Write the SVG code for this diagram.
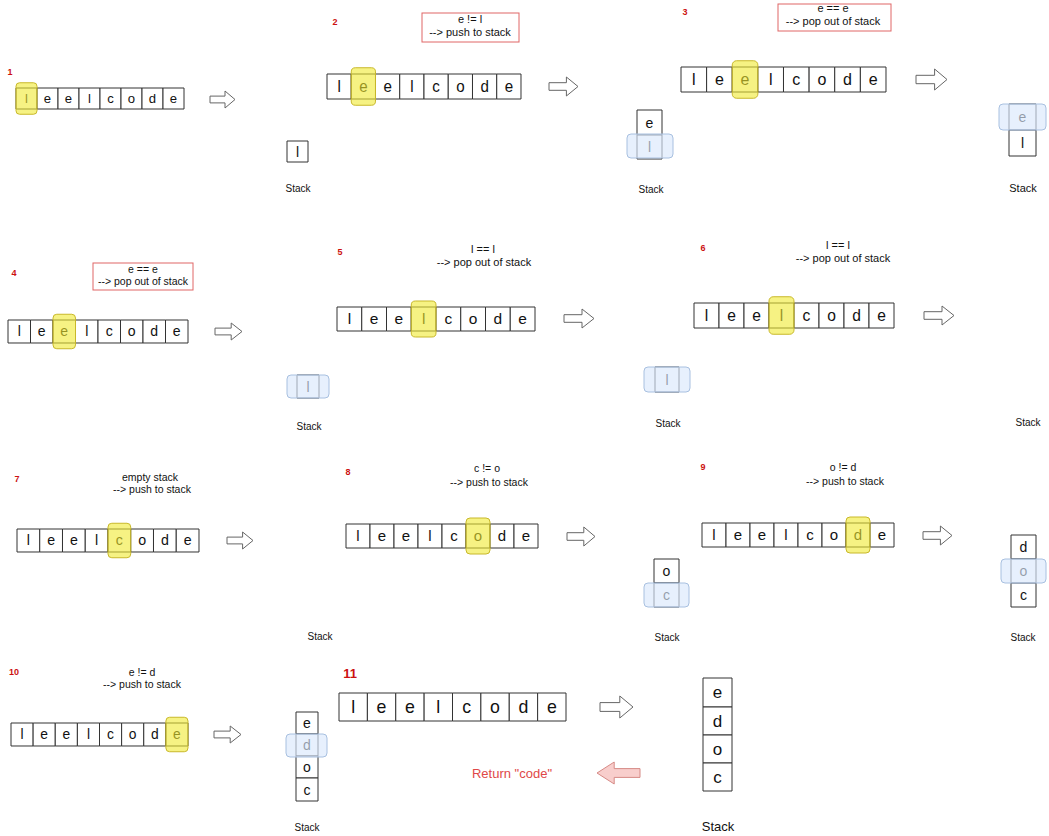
<svg xmlns="http://www.w3.org/2000/svg" width="1049" height="836" viewBox="0 0 1049 836">
<style>
.bg{fill:#fff}
.c{fill:#fff;stroke:#333;stroke-width:1;vector-effect:non-scaling-stroke}
.t{font-family:"Liberation Sans","DejaVu Sans",sans-serif;font-size:15px;text-anchor:middle;fill:#111}
.st{font-family:"Liberation Sans","DejaVu Sans",sans-serif;font-size:14px;text-anchor:middle;fill:#111}
.hy{fill:#f0ea30;fill-opacity:0.6;stroke:#c8b82a;stroke-width:1;vector-effect:non-scaling-stroke}
.hb{fill:#dae8fc;fill-opacity:0.65;stroke:#a8c0e0;stroke-width:1}
.num{font-family:"Liberation Sans","DejaVu Sans",sans-serif;font-size:9px;font-weight:bold;fill:#cc1111;text-anchor:middle}
.lbl{font-family:"Liberation Sans","DejaVu Sans",sans-serif;font-size:11px;fill:#111;text-anchor:middle}
.sl{font-family:"Liberation Sans","DejaVu Sans",sans-serif;font-size:10px;fill:#111;text-anchor:middle}
.rb{fill:none;stroke:#e06666;stroke-width:1}
.ar{fill:#fff;stroke:#666;stroke-width:1}
.pk{fill:#f8cecc;stroke:#d68a86;stroke-width:1}
</style>
<rect class="bg" x="0" y="0" width="1049" height="836"/>

<g id="step1">
<text class="num" x="10" y="75">1</text>
<g transform="translate(16,88) scale(0.875,0.875)">
<rect class="c" x="0" y="0" width="24" height="24"/><rect class="c" x="24" y="0" width="24" height="24"/><rect class="c" x="48" y="0" width="24" height="24"/><rect class="c" x="72" y="0" width="24" height="24"/><rect class="c" x="96" y="0" width="24" height="24"/><rect class="c" x="120" y="0" width="24" height="24"/><rect class="c" x="144" y="0" width="24" height="24"/><rect class="c" x="168" y="0" width="24" height="24"/>
<text class="t" x="12" y="17">l</text><text class="t" x="36" y="17">e</text><text class="t" x="60" y="17">e</text><text class="t" x="84" y="17">l</text><text class="t" x="108" y="17">c</text><text class="t" x="132" y="17">o</text><text class="t" x="156" y="17">d</text><text class="t" x="180" y="17">e</text>
<rect class="hy" x="0" y="-6" width="24" height="36" rx="4"/>
</g>
<rect class="c" x="287" y="141" width="21" height="21"/><text class="st" x="297.5" y="156.5">l</text>
<text class="sl" x="298" y="192">Stack</text>
</g>

<g id="step2">
<text class="num" x="335" y="25">2</text>
<rect class="rb" x="422" y="13" width="97" height="29"/>
<text class="lbl" x="470" y="23">e != l</text>
<text class="lbl" x="470" y="36">--&gt; push to stack</text>
<g transform="translate(327,74) scale(1.0104,1.0417)">
<rect class="c" x="0" y="0" width="24" height="24"/><rect class="c" x="24" y="0" width="24" height="24"/><rect class="c" x="48" y="0" width="24" height="24"/><rect class="c" x="72" y="0" width="24" height="24"/><rect class="c" x="96" y="0" width="24" height="24"/><rect class="c" x="120" y="0" width="24" height="24"/><rect class="c" x="144" y="0" width="24" height="24"/><rect class="c" x="168" y="0" width="24" height="24"/>
<text class="t" x="12" y="17">l</text><text class="t" x="36" y="17">e</text><text class="t" x="60" y="17">e</text><text class="t" x="84" y="17">l</text><text class="t" x="108" y="17">c</text><text class="t" x="132" y="17">o</text><text class="t" x="156" y="17">d</text><text class="t" x="180" y="17">e</text>
<rect class="hy" x="24" y="-6" width="24" height="36" rx="4"/>
</g>
<rect class="c" x="637" y="110" width="25" height="25"/><text class="st" x="649.5" y="127.5">e</text>
<rect class="c" x="637" y="135" width="25" height="24"/><text class="st" x="649.5" y="152">l</text>
<rect class="hb" x="627" y="134" width="46" height="24" rx="4"/>
<text class="sl" x="651" y="193">Stack</text>
</g>

<g id="step3">
<text class="num" x="685" y="15">3</text>
<rect class="rb" x="778" y="4" width="113" height="27"/>
<text class="lbl" x="833" y="12">e == e</text>
<text class="lbl" x="833" y="25">--&gt; pop out of stack</text>
<g transform="translate(681,67) scale(1.0677,1.0417)">
<rect class="c" x="0" y="0" width="24" height="24"/><rect class="c" x="24" y="0" width="24" height="24"/><rect class="c" x="48" y="0" width="24" height="24"/><rect class="c" x="72" y="0" width="24" height="24"/><rect class="c" x="96" y="0" width="24" height="24"/><rect class="c" x="120" y="0" width="24" height="24"/><rect class="c" x="144" y="0" width="24" height="24"/><rect class="c" x="168" y="0" width="24" height="24"/>
<text class="t" x="12" y="17">l</text><text class="t" x="36" y="17">e</text><text class="t" x="60" y="17">e</text><text class="t" x="84" y="17">l</text><text class="t" x="108" y="17">c</text><text class="t" x="132" y="17">o</text><text class="t" x="156" y="17">d</text><text class="t" x="180" y="17">e</text>
<rect class="hy" x="48" y="-6" width="24" height="36" rx="4"/>
</g>
<rect class="c" x="1009" y="104" width="27" height="26"/><text class="st" x="1022.5" y="122">e</text>
<rect class="c" x="1009" y="130" width="27" height="26"/><text class="st" x="1022.5" y="148">l</text>
<rect class="hb" x="999" y="104" width="47" height="26" rx="4"/>
<text class="sl" x="1023" y="192" style="font-size:11px">Stack</text>
</g>

<g id="step4">
<text class="num" x="14" y="276">4</text>
<rect class="rb" x="93" y="263" width="100" height="27"/>
<text class="lbl" x="143" y="273" style="font-size:10.5px">e == e</text>
<text class="lbl" x="143" y="285" style="font-size:10.5px">--&gt; pop out of stack</text>
<g transform="translate(8,320) scale(0.9375,0.9583)">
<rect class="c" x="0" y="0" width="24" height="24"/><rect class="c" x="24" y="0" width="24" height="24"/><rect class="c" x="48" y="0" width="24" height="24"/><rect class="c" x="72" y="0" width="24" height="24"/><rect class="c" x="96" y="0" width="24" height="24"/><rect class="c" x="120" y="0" width="24" height="24"/><rect class="c" x="144" y="0" width="24" height="24"/><rect class="c" x="168" y="0" width="24" height="24"/>
<text class="t" x="12" y="17">l</text><text class="t" x="36" y="17">e</text><text class="t" x="60" y="17">e</text><text class="t" x="84" y="17">l</text><text class="t" x="108" y="17">c</text><text class="t" x="132" y="17">o</text><text class="t" x="156" y="17">d</text><text class="t" x="180" y="17">e</text>
<rect class="hy" x="48" y="-6" width="24" height="36" rx="4"/>
</g>
<rect class="c" x="297" y="375" width="22" height="23"/><text class="st" x="308" y="391.5">l</text>
<rect class="hb" x="287" y="375" width="42" height="23" rx="4"/>
<text class="sl" x="309" y="430">Stack</text>
</g>

<g id="step5">
<text class="num" x="340" y="255">5</text>
<text class="lbl" x="483" y="253">l == l</text>
<text class="lbl" x="484" y="266">--&gt; pop out of stack</text>
<g transform="translate(337,307) scale(1.0313,1)">
<rect class="c" x="0" y="0" width="24" height="24"/><rect class="c" x="24" y="0" width="24" height="24"/><rect class="c" x="48" y="0" width="24" height="24"/><rect class="c" x="72" y="0" width="24" height="24"/><rect class="c" x="96" y="0" width="24" height="24"/><rect class="c" x="120" y="0" width="24" height="24"/><rect class="c" x="144" y="0" width="24" height="24"/><rect class="c" x="168" y="0" width="24" height="24"/>
<text class="t" x="12" y="17">l</text><text class="t" x="36" y="17">e</text><text class="t" x="60" y="17">e</text><text class="t" x="84" y="17">l</text><text class="t" x="108" y="17">c</text><text class="t" x="132" y="17">o</text><text class="t" x="156" y="17">d</text><text class="t" x="180" y="17">e</text>
<rect class="hy" x="72" y="-6" width="24" height="36" rx="4"/>
</g>
<rect class="c" x="655" y="367" width="24" height="25"/><text class="st" x="667" y="384.5">l</text>
<rect class="hb" x="644" y="367" width="46" height="25" rx="4"/>
<text class="sl" x="668" y="427">Stack</text>
</g>

<g id="step6">
<text class="num" x="703" y="251">6</text>
<text class="lbl" x="838" y="249">l == l</text>
<text class="lbl" x="843" y="262">--&gt; pop out of stack</text>
<g transform="translate(694,303) scale(1.0417,1.0417)">
<rect class="c" x="0" y="0" width="24" height="24"/><rect class="c" x="24" y="0" width="24" height="24"/><rect class="c" x="48" y="0" width="24" height="24"/><rect class="c" x="72" y="0" width="24" height="24"/><rect class="c" x="96" y="0" width="24" height="24"/><rect class="c" x="120" y="0" width="24" height="24"/><rect class="c" x="144" y="0" width="24" height="24"/><rect class="c" x="168" y="0" width="24" height="24"/>
<text class="t" x="12" y="17">l</text><text class="t" x="36" y="17">e</text><text class="t" x="60" y="17">e</text><text class="t" x="84" y="17">l</text><text class="t" x="108" y="17">c</text><text class="t" x="132" y="17">o</text><text class="t" x="156" y="17">d</text><text class="t" x="180" y="17">e</text>
<rect class="hy" x="72" y="-6" width="24" height="36" rx="4"/>
</g>
<text class="sl" x="1028" y="426">Stack</text>
</g>

<g id="step7">
<text class="num" x="17" y="482">7</text>
<text class="lbl" x="150" y="481" style="font-size:10.5px">empty stack</text>
<text class="lbl" x="152" y="493" style="font-size:10.5px">--&gt; push to stack</text>
<g transform="translate(17,529) scale(0.9479,0.9583)">
<rect class="c" x="0" y="0" width="24" height="24"/><rect class="c" x="24" y="0" width="24" height="24"/><rect class="c" x="48" y="0" width="24" height="24"/><rect class="c" x="72" y="0" width="24" height="24"/><rect class="c" x="96" y="0" width="24" height="24"/><rect class="c" x="120" y="0" width="24" height="24"/><rect class="c" x="144" y="0" width="24" height="24"/><rect class="c" x="168" y="0" width="24" height="24"/>
<text class="t" x="12" y="17">l</text><text class="t" x="36" y="17">e</text><text class="t" x="60" y="17">e</text><text class="t" x="84" y="17">l</text><text class="t" x="108" y="17">c</text><text class="t" x="132" y="17">o</text><text class="t" x="156" y="17">d</text><text class="t" x="180" y="17">e</text>
<rect class="hy" x="96" y="-6" width="24" height="36" rx="4"/>
</g>
<text class="sl" x="320" y="640">Stack</text>
</g>

<g id="step8">
<text class="num" x="348" y="475">8</text>
<text class="lbl" x="487" y="472" style="font-size:10.5px">c != o</text>
<text class="lbl" x="489" y="486" style="font-size:10.5px">--&gt; push to stack</text>
<g transform="translate(346,524)">
<rect class="c" x="0" y="0" width="24" height="24"/><rect class="c" x="24" y="0" width="24" height="24"/><rect class="c" x="48" y="0" width="24" height="24"/><rect class="c" x="72" y="0" width="24" height="24"/><rect class="c" x="96" y="0" width="24" height="24"/><rect class="c" x="120" y="0" width="24" height="24"/><rect class="c" x="144" y="0" width="24" height="24"/><rect class="c" x="168" y="0" width="24" height="24"/>
<text class="t" x="12" y="17">l</text><text class="t" x="36" y="17">e</text><text class="t" x="60" y="17">e</text><text class="t" x="84" y="17">l</text><text class="t" x="108" y="17">c</text><text class="t" x="132" y="17">o</text><text class="t" x="156" y="17">d</text><text class="t" x="180" y="17">e</text>
<rect class="hy" x="120" y="-6" width="24" height="36" rx="4"/>
</g>
<rect class="c" x="654" y="559" width="25" height="24"/><text class="st" x="666.5" y="576">o</text>
<rect class="c" x="654" y="583" width="25" height="24"/><text class="st" x="666.5" y="600">c</text>
<rect class="hb" x="644" y="583" width="45" height="24" rx="4"/>
<text class="sl" x="667" y="641">Stack</text>
</g>

<g id="step9">
<text class="num" x="703" y="470">9</text>
<text class="lbl" x="843" y="471" style="font-size:10.5px">o != d</text>
<text class="lbl" x="845" y="485" style="font-size:10.5px">--&gt; push to stack</text>
<g transform="translate(702,523)">
<rect class="c" x="0" y="0" width="24" height="24"/><rect class="c" x="24" y="0" width="24" height="24"/><rect class="c" x="48" y="0" width="24" height="24"/><rect class="c" x="72" y="0" width="24" height="24"/><rect class="c" x="96" y="0" width="24" height="24"/><rect class="c" x="120" y="0" width="24" height="24"/><rect class="c" x="144" y="0" width="24" height="24"/><rect class="c" x="168" y="0" width="24" height="24"/>
<text class="t" x="12" y="17">l</text><text class="t" x="36" y="17">e</text><text class="t" x="60" y="17">e</text><text class="t" x="84" y="17">l</text><text class="t" x="108" y="17">c</text><text class="t" x="132" y="17">o</text><text class="t" x="156" y="17">d</text><text class="t" x="180" y="17">e</text>
<rect class="hy" x="144" y="-6" width="24" height="36" rx="4"/>
</g>
<rect class="c" x="1011" y="535" width="25" height="24"/><text class="st" x="1023.5" y="552">d</text>
<rect class="c" x="1011" y="559" width="25" height="24"/><text class="st" x="1023.5" y="576">o</text>
<rect class="c" x="1011" y="583" width="25" height="24"/><text class="st" x="1023.5" y="600">c</text>
<rect class="hb" x="1001" y="559" width="45" height="24" rx="4"/>
<text class="sl" x="1023" y="641">Stack</text>
</g>

<g id="step10">
<text class="num" x="14" y="675">10</text>
<text class="lbl" x="142" y="676" style="font-size:10.5px">e != d</text>
<text class="lbl" x="142" y="688" style="font-size:10.5px">--&gt; push to stack</text>
<g transform="translate(11,723) scale(0.9219,0.9583)">
<rect class="c" x="0" y="0" width="24" height="24"/><rect class="c" x="24" y="0" width="24" height="24"/><rect class="c" x="48" y="0" width="24" height="24"/><rect class="c" x="72" y="0" width="24" height="24"/><rect class="c" x="96" y="0" width="24" height="24"/><rect class="c" x="120" y="0" width="24" height="24"/><rect class="c" x="144" y="0" width="24" height="24"/><rect class="c" x="168" y="0" width="24" height="24"/>
<text class="t" x="12" y="17">l</text><text class="t" x="36" y="17">e</text><text class="t" x="60" y="17">e</text><text class="t" x="84" y="17">l</text><text class="t" x="108" y="17">c</text><text class="t" x="132" y="17">o</text><text class="t" x="156" y="17">d</text><text class="t" x="180" y="17">e</text>
<rect class="hy" x="168" y="-6" width="24" height="36" rx="4"/>
</g>
<rect class="c" x="296" y="712" width="22" height="22"/><text class="st" x="307" y="728">e</text>
<rect class="c" x="296" y="734" width="22" height="22"/><text class="st" x="307" y="750">d</text>
<rect class="c" x="296" y="756" width="22" height="22"/><text class="st" x="307" y="772">o</text>
<rect class="c" x="296" y="778" width="22" height="23"/><text class="st" x="307" y="794.5">c</text>
<rect class="hb" x="286" y="734" width="41" height="23" rx="4"/>
<text class="sl" x="307" y="831">Stack</text>
</g>

<g id="step11">
<text class="num" x="350" y="678" style="font-size:13px">11</text>
<g transform="translate(339,693) scale(1.1823,1.1667)">
<rect class="c" x="0" y="0" width="24" height="24"/><rect class="c" x="24" y="0" width="24" height="24"/><rect class="c" x="48" y="0" width="24" height="24"/><rect class="c" x="72" y="0" width="24" height="24"/><rect class="c" x="96" y="0" width="24" height="24"/><rect class="c" x="120" y="0" width="24" height="24"/><rect class="c" x="144" y="0" width="24" height="24"/><rect class="c" x="168" y="0" width="24" height="24"/>
<text class="t" x="12" y="17">l</text><text class="t" x="36" y="17">e</text><text class="t" x="60" y="17">e</text><text class="t" x="84" y="17">l</text><text class="t" x="108" y="17">c</text><text class="t" x="132" y="17">o</text><text class="t" x="156" y="17">d</text><text class="t" x="180" y="17">e</text>
</g>
<rect class="c" x="703" y="678" width="29" height="29"/><text class="st" x="717.5" y="698" style="font-size:17px">e</text>
<rect class="c" x="703" y="707" width="29" height="28"/><text class="st" x="717.5" y="727" style="font-size:17px">d</text>
<rect class="c" x="703" y="735" width="29" height="28"/><text class="st" x="717.5" y="755" style="font-size:17px">o</text>
<rect class="c" x="703" y="763" width="29" height="28"/><text class="st" x="717.5" y="783" style="font-size:17px">c</text>
<text class="sl" x="718" y="831" style="font-size:13px">Stack</text>
<text x="512" y="778" style="font-family:'Liberation Sans','DejaVu Sans',sans-serif;font-size:13px;fill:#e04848;text-anchor:middle">Return "code"</text>
</g>

<g id="connectors">
<path class="ar" d="M210,96.1 H225 V91 L235,99.5 L225,108 V102.9 H210 Z"/>
<path class="ar" d="M549,82.7 H566.4 V77 L578,86.5 L566.4,96 V90.3 H549 Z"/>
<path class="ar" d="M916,75.3 H934.6 V69 L947,79.5 L934.6,90 V83.7 H916 Z"/>
<path class="ar" d="M215,328.1 H231.2 V323 L242,331.5 L231.2,340 V334.9 H215 Z"/>
<path class="ar" d="M564,314.7 H582 V309 L594,318.5 L582,328 V322.3 H564 Z"/>
<path class="ar" d="M924,311.7 H942 V306 L954,315.5 L942,325 V319.3 H924 Z"/>
<path class="ar" d="M227,537.1 H242.6 V532 L253,540.5 L242.6,549 V543.9 H227 Z"/>
<path class="ar" d="M567,532.7 H583.8 V527 L595,536.5 L583.8,546 V540.3 H567 Z"/>
<path class="ar" d="M923,531.7 H940.4 V526 L952,535.5 L940.4,545 V539.3 H923 Z"/>
<path class="ar" d="M214,731.1 H230.2 V726 L241,734.5 L230.2,743 V737.9 H214 Z"/>
<path class="ar" d="M600,702.6 H619.8 V696 L633,707 L619.8,718 V711.4 H600 Z"/>
<path class="pk" d="M640,768.6 H614.2 V762 L597,773 L614.2,784 V777.4 H640 Z"/>
</g>
</svg>
